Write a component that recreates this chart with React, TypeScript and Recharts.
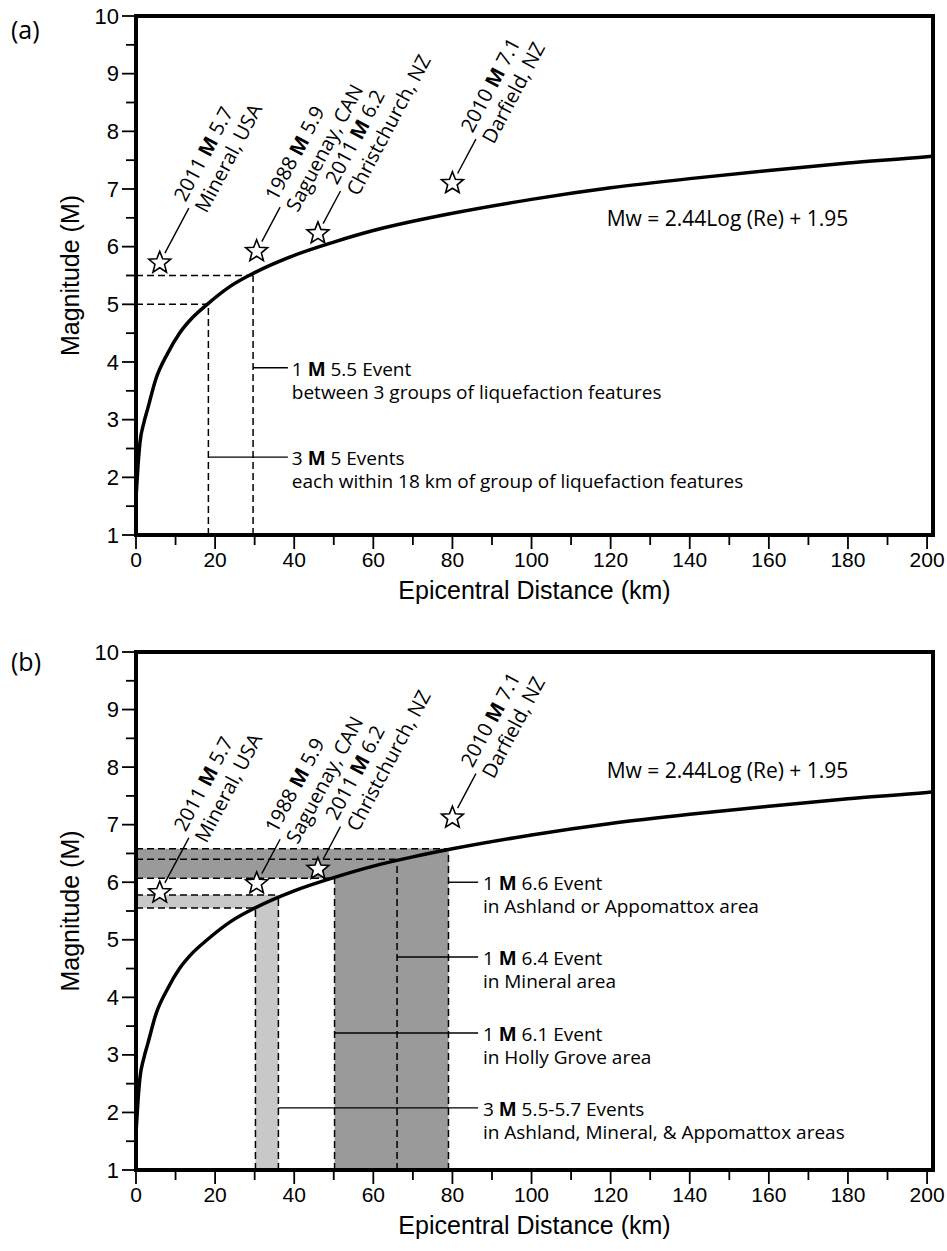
import React from 'react'
import { ComposedChart, Line, Scatter, XAxis, YAxis, ReferenceLine, ReferenceArea, ReferenceDot, Label } from 'recharts'

// Mw = 2.44 Log(Re) + 1.95
const curveDist = [0, 0.5, 1, 2, 3, 5, 8, 11, 14, 18, 24, 30, 40, 50, 60, 70, 80, 100, 120, 140, 160, 180, 200, 201.5]
const curveMag = [1.65, 2.2, 2.6, 2.95, 3.2, 3.7, 4.15, 4.5, 4.75, 5.0, 5.32, 5.55, 5.85, 6.08, 6.28, 6.44, 6.58, 6.82, 7.02, 7.18, 7.32, 7.45, 7.56, 7.57]

// historic earthquakes (stars)
const starDist = [6, 30.5, 46, 80]
const starMagA = [5.72, 5.92, 6.23, 7.1]
const starMagB = [5.82, 5.98, 6.23, 7.12]
const starYear = ['2011', '1988', '2011', '2010']
const starLabel = ['5.7', '5.9', '6.2', '7.1']
const starPlace = ['Mineral, USA', 'Saguenay, CAN', 'Christchurch, NZ', 'Darfield, NZ']

// panel (a) thresholds
const aMag = [5.0, 5.5]
const aDist = [18.3, 29.6]

// panel (b) ranges
const bLightMag = [5.55, 5.78]
const bLightDist = [30.2, 36]
const bDarkMag = [6.07, 6.4, 6.58]
const bDarkDist = [50.2, 66, 79]

const notesA = [
  { from: 29.6, count: '1', mag: '5.5', unit: 'Event', sub: 'between 3 groups of liquefaction features' },
  { from: 18.3, count: '3', mag: '5', unit: 'Events', sub: 'each within 18 km of group of liquefaction features' },
]
const notesB = [
  { from: 79, count: '1', mag: '6.6', unit: 'Event', sub: 'in Ashland or Appomattox area' },
  { from: 66, count: '1', mag: '6.4', unit: 'Event', sub: 'in Mineral area' },
  { from: 50.2, count: '1', mag: '6.1', unit: 'Event', sub: 'in Holly Grove area' },
  { from: 36, count: '3', mag: '5.5-5.7', unit: 'Events', sub: 'in Ashland, Mineral, & Appomattox areas' },
]

const xTicks = [0, 10, 20, 30, 40, 50, 60, 70, 80, 90, 100, 110, 120, 130, 140, 150, 160, 170, 180, 190, 200]
const yTicks = [1, 1.5, 2, 2.5, 3, 3.5, 4, 4.5, 5, 5.5, 6, 6.5, 7, 7.5, 8, 8.5, 9, 9.5, 10]

// layout (not data)
const X_MAX = 201.5
const NOTE_ROWS_A = [3.9, 2.35]
const NOTE_ROWS_B = [6.0, 4.7, 3.38, 2.08]
const LEADER_LEN = [62, 50, 48, 50]
const LIGHT = '#c8c8c8'
const DARK = '#9a9a9a'
const FONT_AX = '"Liberation Sans", Arial, Helvetica, sans-serif'
const FONT_TX = '"Open Sans", "Noto Sans", sans-serif'

const curve = curveDist.map((x, i) => ({ x, y: curveMag[i] }))
const makeStars = (mags: number[]) =>
  starDist.map((x, i) => ({ x, y: mags[i], year: starYear[i], mag: starLabel[i], place: starPlace[i], lead: LEADER_LEN[i] }))
const starsA = makeStars(starMagA)
const starsB = makeStars(starMagB)

const starPoints = (cx: number, cy: number, R: number, r: number) => {
  const pts: string[] = []
  for (let i = 0; i < 10; i++) {
    const a = -Math.PI / 2 + (i * Math.PI) / 5
    const rad = i % 2 === 0 ? R : r
    pts.push(`${cx + rad * Math.cos(a)},${cy + rad * Math.sin(a)}`)
  }
  return pts.join(' ')
}

const StarMark = (props: any) => {
  const { cx, cy, payload } = props
  const lead = payload.lead
  return (
    <g>
      <g transform={`translate(${cx},${cy}) rotate(-62)`} fontFamily={FONT_TX} fontSize={20} fill="#000">
        <line x1={11} y1={0} x2={lead} y2={0} stroke="#000" strokeWidth={1.4} />
        <text x={lead + 3} y={-13} dominantBaseline="central">
          {payload.year} <tspan fontWeight={700}>M</tspan> {payload.mag}
        </text>
        <text x={lead + 3} y={11} dominantBaseline="central">{payload.place}</text>
      </g>
      <polygon points={starPoints(cx, cy, 11.5, 5)} fill="#fff" stroke="#000" strokeWidth={1.6} strokeLinejoin="miter" />
    </g>
  )
}

const XTick = (props: any) => {
  const { x, y, payload } = props
  const major = payload.value % 20 === 0
  return (
    <g>
      <line x1={x} y1={y} x2={x} y2={y + (major ? 14 : 10)} stroke="#000" strokeWidth={1.8} />
      {major && (
        <text x={x} y={y + 32} textAnchor="middle" fontFamily={FONT_AX} fontSize={21} fill="#000">
          {payload.value}
        </text>
      )}
    </g>
  )
}

const YTick = (props: any) => {
  const { x, y, payload } = props
  const major = Number.isInteger(payload.value)
  return (
    <g>
      <line x1={x - (major ? 14 : 10)} y1={y} x2={x} y2={y} stroke="#000" strokeWidth={1.8} />
      {major && (
        <text x={x - 17} y={y} textAnchor="end" dominantBaseline="central" fontFamily={FONT_AX} fontSize={22} fill="#000">
          {payload.value}
        </text>
      )}
    </g>
  )
}

const Note = ({ cx, cy, n }: any) => (
  <g fontFamily={FONT_TX} fontSize={19} fill="#000">
    <text x={cx} y={cy + 1} dominantBaseline="central">
      {n.count} <tspan fontWeight={700}>M</tspan> {n.mag} {n.unit}
    </text>
    <text x={cx} y={cy + 24} dominantBaseline="central">{n.sub}</text>
  </g>
)

const Equation = ({ cx, cy }: any) => (
  <text x={cx} y={cy} dominantBaseline="central" fontFamily={FONT_TX} fontSize={21} fill="#000">
    Mw = 2.44Log (Re) + 1.95
  </text>
)

const dash = { stroke: '#000', strokeWidth: 1.5, strokeDasharray: '7 4' }

function axes() {
  return [
    <XAxis
      key="x"
      dataKey="x"
      type="number"
      domain={[0, X_MAX]}
      ticks={xTicks}
      interval={0}
      allowDataOverflow
      axisLine={false}
      tickLine={false}
      tickSize={0}
      tickMargin={0}
      tick={<XTick />}
      height={70}
    >
      <Label
        content={(p: any) => {
          const vb = p.viewBox
          return (
            <text x={vb.x + vb.width / 2} y={vb.y + 64} textAnchor="middle" fontFamily={FONT_AX} fontSize={25} fill="#000">
              Epicentral Distance (km)
            </text>
          )
        }}
      />
    </XAxis>,
    <YAxis
      key="y"
      dataKey="y"
      type="number"
      domain={[1, 10]}
      ticks={yTicks}
      interval={0}
      allowDataOverflow
      axisLine={false}
      tickLine={false}
      tickSize={0}
      tickMargin={0}
      tick={<YTick />}
      width={60}
    >
      <Label
        content={(p: any) => {
          const vb = p.viewBox
          const cy = vb.y + vb.height / 2
          return (
            <text x={70} y={cy} transform={`rotate(-90, 70, ${cy})`} textAnchor="middle" dominantBaseline="central" fontFamily={FONT_AX} fontSize={25} fill="#000">
              Magnitude (M)
            </text>
          )
        }}
      />
    </YAxis>,
  ]
}

function ChartA() {
  return (
    <ComposedChart width={947} height={620} margin={{ top: 16, right: 14, left: 76, bottom: 15 }}>
      {axes()}
      {aMag.map((m, i) => (
        <ReferenceLine key={`ah${i}`} segment={[{ x: 0, y: m }, { x: aDist[i], y: m }]} {...dash} />
      ))}
      {aMag.map((m, i) => (
        <ReferenceLine key={`av${i}`} segment={[{ x: aDist[i], y: 1 }, { x: aDist[i], y: m }]} {...dash} />
      ))}
      {notesA.map((n, i) => (
        <ReferenceLine key={`al${i}`} segment={[{ x: n.from, y: NOTE_ROWS_A[i] }, { x: 38.4, y: NOTE_ROWS_A[i] }]} stroke="#000" strokeWidth={1.4} />
      ))}
      {notesA.map((n, i) => (
        <ReferenceDot key={`at${i}`} x={39.4} y={NOTE_ROWS_A[i]} shape={(p: any) => <Note cx={p.cx} cy={p.cy} n={n} />} />
      ))}
      <ReferenceDot x={119} y={6.5} shape={(p: any) => <Equation cx={p.cx} cy={p.cy} />} />
      <Line data={curve} dataKey="y" type="monotone" stroke="#000" strokeWidth={3.5} dot={false} activeDot={false} isAnimationActive={false} />
      <Scatter data={starsA} dataKey="y" shape={StarMark} isAnimationActive={false} />
      <ReferenceArea x1={0} x2={X_MAX} y1={1} y2={10} fill="none" stroke="#000" strokeWidth={4} />
    </ComposedChart>
  )
}

function ChartB() {
  const levels = [...bLightMag.map((m, i) => [m, bLightDist[i]]), ...bDarkMag.map((m, i) => [m, bDarkDist[i]])]
  return (
    <ComposedChart width={947} height={615} margin={{ top: 16, right: 14, left: 76, bottom: 11 }}>
      {axes()}
      <ReferenceArea x1={0} x2={bLightDist[1]} y1={bLightMag[0]} y2={bLightMag[1]} fill={LIGHT} fillOpacity={1} stroke="none" />
      <ReferenceArea x1={bLightDist[0]} x2={bLightDist[1]} y1={1} y2={bLightMag[1]} fill={LIGHT} fillOpacity={1} stroke="none" />
      <ReferenceArea x1={0} x2={bDarkDist[2]} y1={bDarkMag[0]} y2={bDarkMag[2]} fill={DARK} fillOpacity={1} stroke="none" />
      <ReferenceArea x1={bDarkDist[0]} x2={bDarkDist[2]} y1={1} y2={bDarkMag[2]} fill={DARK} fillOpacity={1} stroke="none" />
      {levels.map(([m, d], i) => (
        <ReferenceLine key={`bh${i}`} segment={[{ x: 0, y: m }, { x: d, y: m }]} {...dash} />
      ))}
      {levels.map(([m, d], i) => (
        <ReferenceLine key={`bv${i}`} segment={[{ x: d, y: 1 }, { x: d, y: m }]} {...dash} />
      ))}
      {notesB.map((n, i) => (
        <ReferenceLine key={`bl${i}`} segment={[{ x: n.from, y: NOTE_ROWS_B[i] }, { x: 86.5, y: NOTE_ROWS_B[i] }]} stroke="#000" strokeWidth={1.4} />
      ))}
      {notesB.map((n, i) => (
        <ReferenceDot key={`bt${i}`} x={87.7} y={NOTE_ROWS_B[i]} shape={(p: any) => <Note cx={p.cx} cy={p.cy} n={n} />} />
      ))}
      <ReferenceDot x={119} y={7.95} shape={(p: any) => <Equation cx={p.cx} cy={p.cy} />} />
      <Line data={curve} dataKey="y" type="monotone" stroke="#000" strokeWidth={3.5} dot={false} activeDot={false} isAnimationActive={false} />
      <Scatter data={starsB} dataKey="y" shape={StarMark} isAnimationActive={false} />
      <ReferenceArea x1={0} x2={X_MAX} y1={1} y2={10} fill="none" stroke="#000" strokeWidth={4} />
    </ComposedChart>
  )
}

const panelTag: React.CSSProperties = { position: 'absolute', left: 11, fontFamily: FONT_TX, fontSize: 25, lineHeight: '30px' }

export default function App() {
  return (
    <div style={{ position: 'absolute', left: 0, top: 0, width: 947, height: 1251, background: '#fff' }}>
      <div style={{ position: 'absolute', left: 0, top: 0 }}>
        <ChartA />
      </div>
      <div style={{ position: 'absolute', left: 0, top: 636 }}>
        <ChartB />
      </div>
      <div style={{ ...panelTag, top: 14 }}>(a)</div>
      <div style={{ ...panelTag, top: 646 }}>(b)</div>
    </div>
  )
}
